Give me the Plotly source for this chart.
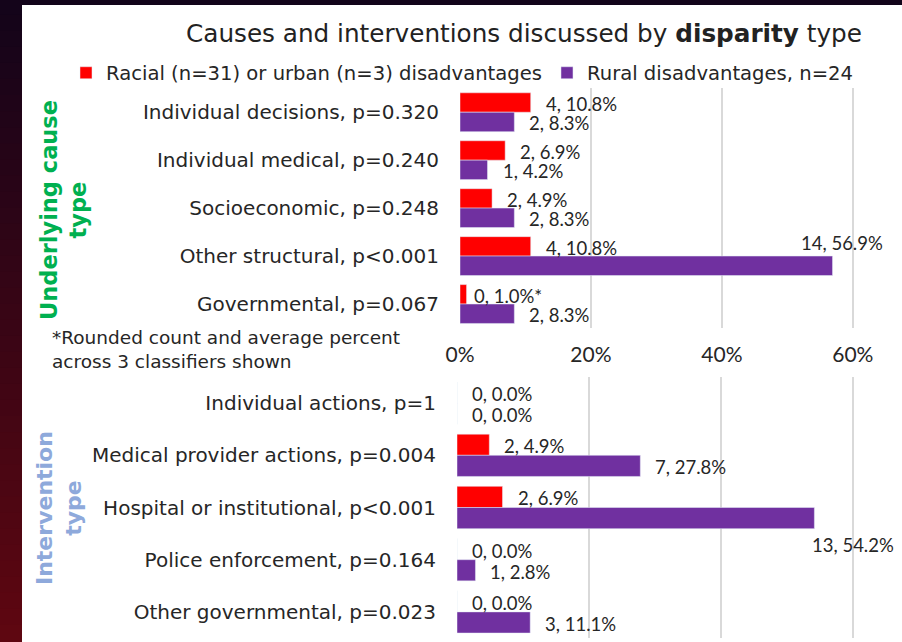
import plotly.graph_objects as go

# ---------------- data ----------------
cause_cats = ["Individual decisions, p=0.320", "Individual medical, p=0.240",
              "Socioeconomic, p=0.248", "Other structural, p<0.001",
              "Governmental, p=0.067"]
cause_racial_pct = [10.8, 6.9, 4.9, 10.8, 1.0]
cause_racial_n = [4, 2, 2, 4, 0]
cause_rural_pct = [8.3, 4.2, 8.3, 56.9, 8.3]
cause_rural_n = [2, 1, 2, 14, 2]

interv_cats = ["Individual actions, p=1", "Medical provider actions, p=0.004",
               "Hospital or institutional, p<0.001", "Police enforcement, p=0.164",
               "Other governmental, p=0.023"]
interv_racial_pct = [0.0, 4.9, 6.9, 0.0, 0.0]
interv_racial_n = [0, 2, 2, 0, 0]
interv_rural_pct = [0.0, 27.8, 54.2, 2.8, 11.1]
interv_rural_n = [0, 7, 13, 1, 3]

x_ticks = [0, 20, 40, 60]
x_tick_text = ["0%", "20%", "40%", "60%"]
series_names = ["Racial (n=31) or urban (n=3) disadvantages", "Rural disadvantages, n=24"]

# ---------------- style ----------------
W, H = 902, 642
FONT = "DejaVu Sans"
NUMFONT = "Lato"
TXT = "#262626"
RED = "#FF0000"
PURPLE = "#7030A0"
GRID = "#D9D9D9"
BARGAP = 0.19

up_x = [460 / W, 879 / W]
up_y = [1 - 328 / H, 1 - 88 / H]
lo_x = [457 / W, 879 / W]
lo_y = [1 - 638 / H, 1 - 377 / H]
XR = [0, 64]

fig = go.Figure()

def add_pair(cats, rp, up, xa, ya, show):
    fig.add_trace(go.Bar(y=cats, x=rp, orientation="h", name=series_names[0],
                         marker=dict(color=RED), xaxis=xa, yaxis=ya,
                         showlegend=show, legendgroup="r"))
    fig.add_trace(go.Bar(y=cats, x=up, orientation="h", name=series_names[1],
                         marker=dict(color=PURPLE), xaxis=xa, yaxis=ya,
                         showlegend=show, legendgroup="p"))

add_pair(cause_cats, cause_racial_pct, cause_rural_pct, "x", "y", True)
add_pair(interv_cats, interv_racial_pct, interv_rural_pct, "x2", "y2", False)

annotations = []

def bar_labels(cats, rp, rn, up, un, xa, ya, ydom, special):
    band = (ydom[1] - ydom[0]) * H / len(cats)
    off = band * (1 - BARGAP) / 4
    for series, (pcts, ns, sign) in enumerate([(rp, rn, 1), (up, un, -1)]):
        for i, (c, p, n) in enumerate(zip(cats, pcts, ns)):
            txt = f"{n}, {p:.1f}%"
            ann = dict(x=p, y=c, xref=xa, yref=ya, text=txt, showarrow=False,
                       xanchor="left", yanchor="middle", xshift=13,
                       yshift=sign * off - 1.5,
                       font=dict(family=NUMFONT, size=18.5, color=TXT))
            key = (series, i)
            if key in special:
                ann.update(special[key])
                if "suffix" in ann:
                    ann["text"] = txt + ann.pop("suffix")
            annotations.append(ann)

bar_labels(cause_cats, cause_racial_pct, cause_racial_n, cause_rural_pct, cause_rural_n,
           "x", "y", up_y,
           {(0, 4): dict(xshift=5, suffix="*"),
            (1, 3): dict(xanchor="right", xshift=52, yshift=13)})
bar_labels(interv_cats, interv_racial_pct, interv_racial_n, interv_rural_pct, interv_rural_n,
           "x2", "y2", lo_y,
           {(1, 2): dict(xshift=-4, yshift=-37)})

# side titles and note
annotations += [
    dict(x=64 / W, y=1 - 210 / H, xref="paper", yref="paper", text="<b>Underlying cause<br>type</b>",
         textangle=-90, showarrow=False, font=dict(family=FONT, size=22.5, color="#00B050"),
         xanchor="center", yanchor="middle"),
    dict(x=59 / W, y=1 - 508 / H, xref="paper", yref="paper", text="<b>Intervention<br>type</b>",
         textangle=-90, showarrow=False, font=dict(family=FONT, size=22, color="#8EA9DB"),
         xanchor="center", yanchor="middle"),
    dict(x=50 / W, y=1 - 349 / H, xref="paper", yref="paper",
         text="*Rounded count and average percent<br>across 3 classifiers shown",
         showarrow=False, align="left", xanchor="left", yanchor="middle",
         font=dict(family=FONT, size=18.5, color=TXT)),
]

# background strips (slide frame)
shapes = [dict(type="rect", xref="paper", yref="paper", x0=0, x1=1, y0=1 - 5 / H, y1=1,
               fillcolor="#12041A", line=dict(width=0), layer="below")]
N = 40
c0 = (0x14, 0x04, 0x1A)
c1 = (0x5E, 0x07, 0x11)
for k in range(N):
    t = k / (N - 1)
    col = "rgb(%d,%d,%d)" % tuple(int(a + (b - a) * t) for a, b in zip(c0, c1))
    shapes.append(dict(type="rect", xref="paper", yref="paper", x0=0, x1=22 / W,
                       y0=1 - (k + 1) / N, y1=1 - k / N + 0.002,
                       fillcolor=col, line=dict(width=0), layer="below"))

axis_common = dict(range=XR, showgrid=True, gridcolor=GRID, gridwidth=2, zeroline=False,
                   showline=False, tickvals=x_ticks, ticktext=x_tick_text, fixedrange=True)
yaxis_common = dict(autorange="reversed", showgrid=False, zeroline=False, showline=False,
                    ticks="", ticklabelstandoff=20, fixedrange=True,
                    tickfont=dict(family=FONT, size=20, color=TXT))

fig.update_layout(
    width=W, height=H, margin=dict(l=0, r=0, t=0, b=0, autoexpand=False),
    paper_bgcolor="white", plot_bgcolor="white",
    barmode="group", bargap=BARGAP, bargroupgap=0,
    font=dict(family=FONT, color=TXT),
    title=dict(text="Causes and interventions discussed by <b>disparity</b> type",
               x=524 / W, y=1 - 33 / H, xanchor="center", yanchor="middle",
               font=dict(family=FONT, size=24.7, color="#222222")),
    legend=dict(orientation="h", x=66 / W, y=1 - 73 / H, xanchor="left", yanchor="middle",
                font=dict(family=FONT, size=19.6, color=TXT), bgcolor="rgba(0,0,0,0)",
                itemwidth=30, traceorder="normal"),
    xaxis=dict(domain=up_x, anchor="y", showticklabels=True, ticks="", ticklabelstandoff=12,
               tickfont=dict(family=NUMFONT, size=21, color=TXT), **axis_common),
    yaxis=dict(domain=up_y, anchor="x", **yaxis_common),
    xaxis2=dict(domain=lo_x, anchor="y2", showticklabels=False, **axis_common),
    yaxis2=dict(domain=lo_y, anchor="x2", **yaxis_common),
    annotations=annotations,
    shapes=shapes,
)

fig.write_html("out.html", config={"displayModeBar": False},
               post_script="document.body.style.margin='0';")
